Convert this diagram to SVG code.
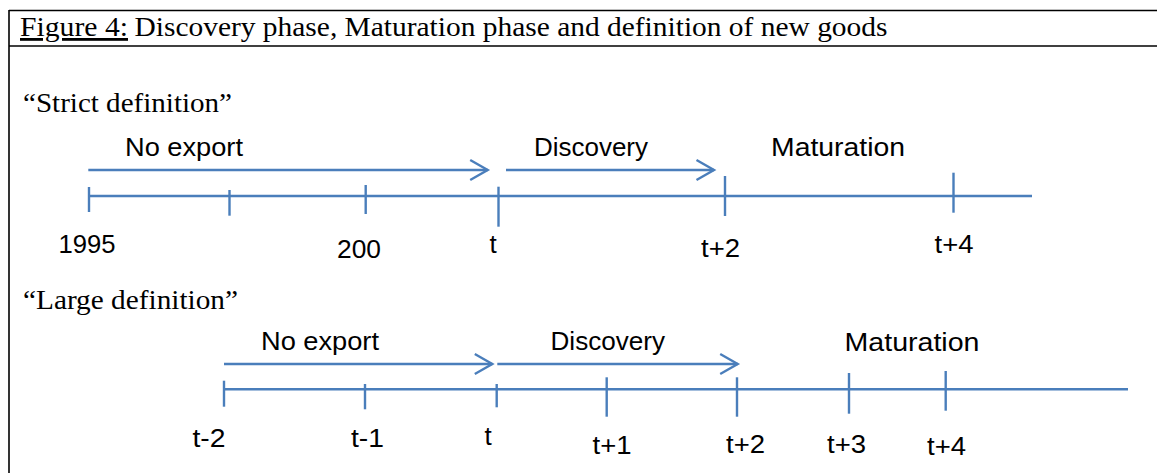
<svg xmlns="http://www.w3.org/2000/svg" width="1157" height="473" viewBox="0 0 1157 473">
<style>
.frame{stroke:#000;stroke-width:1.6;fill:none}
.serif{font-family:"Liberation Serif","Times New Roman",serif;font-size:28px;fill:#000}
.lbl{font-family:"Liberation Sans",Arial,sans-serif;font-size:26px;fill:#000}
.ax{stroke:#4A7EBB;stroke-width:2.4;fill:none}
.arr{stroke:#4A7EBB;stroke-width:2.4;fill:none;marker-end:url(#chev)}
</style>
<defs>
<marker id="chev" markerUnits="userSpaceOnUse" markerWidth="22" markerHeight="24" refX="18" refY="11" orient="auto" overflow="visible">
<path d="M0.5,1 L18,11 L0.5,21" fill="none" stroke="#4A7EBB" stroke-width="2.4"/>
</marker>
</defs>
<rect width="1157" height="473" fill="#fff"/>
<g id="frame">
<line class="frame" x1="9" y1="10.5" x2="1157" y2="10.5"/>
<line class="frame" x1="9" y1="46" x2="1157" y2="46"/>
<line class="frame" x1="9" y1="10" x2="9" y2="473"/>
</g>
<g id="title">
<text class="serif" x="20" y="36" textLength="108" lengthAdjust="spacingAndGlyphs" text-decoration="underline">Figure 4:</text>
<text class="serif" x="134.5" y="36" textLength="753" lengthAdjust="spacingAndGlyphs">Discovery phase, Maturation phase and definition of new goods</text>
</g>
<g id="strict-heading">
<text class="serif" x="23" y="111.5" textLength="209" lengthAdjust="spacingAndGlyphs">“Strict definition”</text>
</g>
<g id="strict-timeline">
<line class="ax" x1="89" y1="196" x2="1032" y2="196"/>
<line class="ax" x1="89" y1="187" x2="89" y2="212"/>
<line class="ax" x1="229.5" y1="190" x2="229.5" y2="215.7"/>
<line class="ax" x1="365.7" y1="185" x2="365.7" y2="214"/>
<line class="ax" x1="498.5" y1="186.7" x2="498.5" y2="226.7"/>
<line class="ax" x1="725" y1="176" x2="725" y2="216"/>
<line class="ax" x1="953.5" y1="172.7" x2="953.5" y2="212.7"/>
<text class="lbl" x="125" y="156" textLength="118" lengthAdjust="spacingAndGlyphs">No export</text>
<text class="lbl" x="534" y="156" textLength="114" lengthAdjust="spacingAndGlyphs">Discovery</text>
<text class="lbl" x="771" y="156" textLength="134" lengthAdjust="spacingAndGlyphs">Maturation</text>
<text class="lbl" x="58.5" y="253" textLength="57" lengthAdjust="spacingAndGlyphs">1995</text>
<text class="lbl" x="337" y="258" textLength="44" lengthAdjust="spacingAndGlyphs">200</text>
<text class="lbl" x="489.5" y="252.7">t</text>
<text class="lbl" x="701" y="257" textLength="39" lengthAdjust="spacingAndGlyphs">t+2</text>
<text class="lbl" x="934.5" y="252.7" textLength="39" lengthAdjust="spacingAndGlyphs">t+4</text>
</g>
<g id="large-heading">
<text class="serif" x="23" y="309" textLength="215" lengthAdjust="spacingAndGlyphs">“Large definition”</text>
</g>
<g id="large-timeline">
<line class="ax" x1="224" y1="389.3" x2="1128" y2="389.3"/>
<line class="ax" x1="224" y1="380.7" x2="224" y2="406.7"/>
<line class="ax" x1="365" y1="384" x2="365" y2="409.3"/>
<line class="ax" x1="496.7" y1="384" x2="496.7" y2="407.3"/>
<line class="ax" x1="606.7" y1="377.3" x2="606.7" y2="416.7"/>
<line class="ax" x1="737" y1="377.3" x2="737" y2="416.7"/>
<line class="ax" x1="849" y1="373" x2="849" y2="413.7"/>
<line class="ax" x1="945.7" y1="371" x2="945.7" y2="410.7"/>
<text class="lbl" x="261" y="350" textLength="118" lengthAdjust="spacingAndGlyphs">No export</text>
<text class="lbl" x="550.5" y="350" textLength="114.5" lengthAdjust="spacingAndGlyphs">Discovery</text>
<text class="lbl" x="844.5" y="350.7" textLength="135" lengthAdjust="spacingAndGlyphs">Maturation</text>
<text class="lbl" x="192.5" y="446.7" textLength="33" lengthAdjust="spacingAndGlyphs">t-2</text>
<text class="lbl" x="351" y="447.3" textLength="33" lengthAdjust="spacingAndGlyphs">t-1</text>
<text class="lbl" x="484.5" y="445">t</text>
<text class="lbl" x="592.5" y="454" textLength="39" lengthAdjust="spacingAndGlyphs">t+1</text>
<text class="lbl" x="726" y="453.3" textLength="39" lengthAdjust="spacingAndGlyphs">t+2</text>
<text class="lbl" x="827" y="453.3" textLength="39" lengthAdjust="spacingAndGlyphs">t+3</text>
<text class="lbl" x="927" y="455" textLength="39" lengthAdjust="spacingAndGlyphs">t+4</text>
</g>
<g id="connectors">
<line class="arr" x1="88.3" y1="170" x2="487.7" y2="170"/>
<line class="arr" x1="506" y1="170" x2="714" y2="170"/>
<line class="arr" x1="224" y1="364" x2="492.3" y2="364"/>
<line class="arr" x1="497.3" y1="364" x2="737.7" y2="364"/>
</g>
</svg>
